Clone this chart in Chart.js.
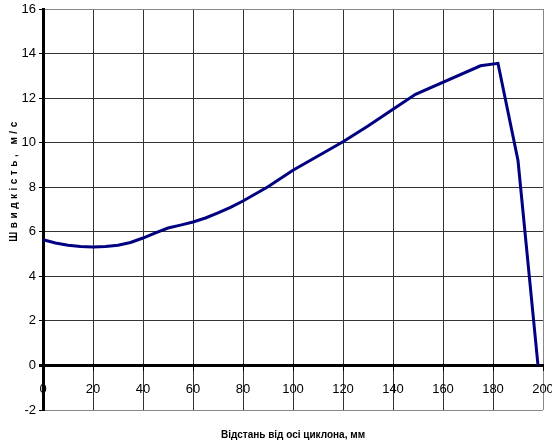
<!DOCTYPE html>
<html>
<head>
<meta charset="utf-8">
<script src="https://cdn.jsdelivr.net/npm/chart.js@4"></script>
<style>
  html, body { margin: 0; padding: 0; background: #fff; }
  #wrap { width: 552px; height: 447px; }
</style>
</head>
<body>
<div id="wrap"><canvas id="chart"></canvas></div>
<script>
// Distance from cyclone axis (mm) and gas speed (m/s)
const distance = [0, 5, 10, 15, 20, 25, 30, 35, 40, 45, 50, 55, 60, 65, 70, 75, 80, 90, 100, 110, 120, 130, 140, 149, 175, 182, 190, 198];
const speed = [5.65, 5.5, 5.4, 5.34, 5.32, 5.34, 5.4, 5.52, 5.72, 5.95, 6.17, 6.3, 6.44, 6.62, 6.85, 7.1, 7.38, 8.02, 8.76, 9.4, 10.04, 10.75, 11.5, 12.17, 13.45, 13.56, 9.2, 0];

const xTitle = "Відстань від осі циклона, мм";
const yTitle = "Швидкість, м/с";

Chart.defaults.font.family = "'Liberation Sans Narrow', 'Liberation Sans', Arial, sans-serif";
Chart.defaults.font.size = 13;
Chart.defaults.color = "#000";

// draws both axis titles by hand so they sit where the original puts them
const axisTitles = {
  id: "axisTitles",
  afterDraw(chart) {
    const c = chart.ctx;
    const area = chart.chartArea;
    c.save();
    c.fillStyle = "#000";
    c.font = "bold 10px 'Liberation Sans', Arial, sans-serif";
    c.textAlign = "center";
    c.textBaseline = "middle";
    c.fillText(xTitle, (area.left + area.right) / 2, 435);
    c.translate(14, 180);
    c.rotate(-Math.PI / 2);
    c.letterSpacing = "3.5px";
    c.fillText(yTitle, 0, 0);
    c.restore();
  },
};

new Chart(document.getElementById("chart").getContext("2d"), {
  type: "line",
  data: {
    datasets: [
      {
        data: distance.map((d, i) => ({ x: d, y: speed[i] })),
        borderColor: "#000080",
        borderWidth: 3,
        pointRadius: 0,
        tension: 0,
        fill: false,
      },
    ],
  },
  options: {
    responsive: true,
    maintainAspectRatio: false,
    animation: false,
    layout: { padding: { top: 9, right: 9, bottom: 37, left: 0 } },
    plugins: { legend: { display: false }, tooltip: { enabled: false } },
    scales: {
      x: {
        type: "linear",
        position: { y: 0 },
        min: 0,
        max: 200,
        afterFit: (s) => { s.paddingLeft = 0; s.paddingRight = 0; },
        ticks: { stepSize: 20, padding: 12 },
        grid: {
          color: (ctx) => (ctx.tick && ctx.tick.value === 200 ? "#888" : "#333"),
          tickColor: "#000",
          tickLength: 4,
          lineWidth: 1,
        },
        border: { color: "#000", width: 3 },
      },
      y: {
        min: -2,
        max: 16,
        afterFit: (s) => { s.width = 43; s.paddingTop = 0; s.paddingBottom = 0; },
        ticks: { stepSize: 2, padding: 3 },
        grid: {
          color: (ctx) => {
            const v = ctx.tick && ctx.tick.value;
            if (v === 0) return "#000";
            if (v === 16 || v === -2) return "#888";
            return "#333";
          },
          lineWidth: (ctx) => (ctx.tick && ctx.tick.value === 0 ? 3 : 1),
          tickColor: "#000",
          tickLength: 4,
        },
        border: { color: "#000", width: 3 },
      },
    },
  },
  plugins: [axisTitles],
});
</script>
</body>
</html>
